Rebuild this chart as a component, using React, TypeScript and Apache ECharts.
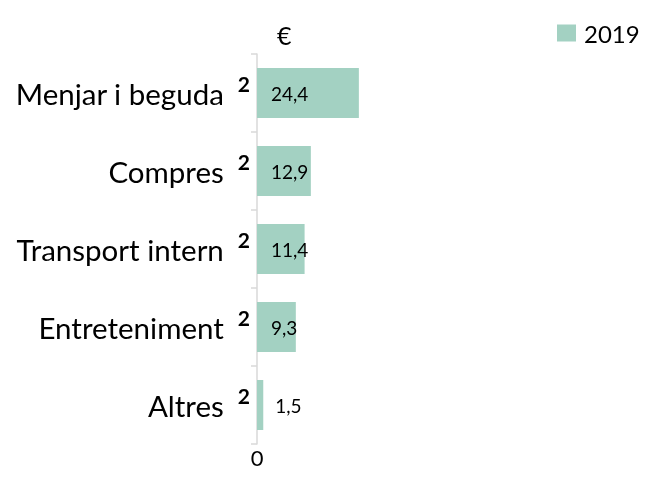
import React, { useEffect, useRef } from "react";
import * as echarts from "echarts";

const categories = ["Menjar i beguda", "Compres", "Transport intern", "Entreteniment", "Altres"];
const superscripts = ["2", "2", "2", "2", "2"];
const values2019 = [24.4, 12.9, 11.4, 9.3, 1.5];
const seriesName = "2019";
const unitLabel = "€";

const FONT = "Lato";
const BAR_COLOR = "#a3d1c2";

export default function App() {
  const ref = useRef<HTMLDivElement>(null);
  useEffect(() => {
    if (!ref.current) return;
    const chart = echarts.init(ref.current, undefined, { renderer: "svg" });
    chart.setOption({
      animation: false,
      textStyle: { fontFamily: FONT },
      legend: {
        data: [seriesName],
        left: 552,
        top: 16,
        icon: "rect",
        itemWidth: 19,
        itemHeight: 17,
        textStyle: { fontSize: 24, color: "#000", fontFamily: FONT, padding: [0, 0, 0, 3] },
      },
      graphic: [
        {
          type: "text",
          left: 277,
          top: 22,
          style: { text: unitLabel, fontSize: 25, fill: "#000", fontFamily: FONT },
        },
      ],
      grid: { left: 257, top: 54, bottom: 44, width: 334, containLabel: false },
      xAxis: {
        type: "value",
        min: 0,
        max: 80,
        interval: 80,
        axisLine: { show: false },
        axisTick: { show: false },
        splitLine: { show: false },
        axisLabel: {
          fontSize: 22,
          color: "#000",
          margin: 2,
          fontFamily: FONT,
          formatter: (v: number) => (v === 0 ? "0" : ""),
        },
      },
      yAxis: {
        type: "category",
        inverse: true,
        data: categories,
        axisLine: { show: true, lineStyle: { color: "#d9d9d9", width: 1.5 } },
        axisTick: { show: true, length: 6, lineStyle: { color: "#d9d9d9", width: 1.5 } },
        axisLabel: {
          margin: 7,
          fontFamily: FONT,
          formatter: (v: string) => {
            const i = categories.indexOf(v);
            return `{a|${v}}{b|${superscripts[i]}}`;
          },
          rich: {
            a: { fontSize: 29.5, color: "#000", fontFamily: FONT },
            b: {
              fontSize: 21,
              fontWeight: "bold",
              color: "#000",
              fontFamily: FONT,
              padding: [0, 0, 20, 14],
            },
          },
        },
      },
      series: [
        {
          name: seriesName,
          type: "bar",
          data: values2019.map((v, i) =>
            i === values2019.length - 1
              ? { value: v, label: { position: "right", distance: 12 } }
              : { value: v }
          ),
          barWidth: 50,
          itemStyle: { color: BAR_COLOR },
          label: {
            show: true,
            position: "insideLeft",
            distance: 14,
            fontSize: 19,
            color: "#000",
            fontFamily: FONT,
            formatter: (p: any) => String(p.value).replace(".", ","),
          },
        },
      ],
    });
    return () => chart.dispose();
  }, []);
  return (
    <div
      ref={ref}
      style={{ position: "fixed", left: 0, top: 0, width: 649, height: 488 }}
    />
  );
}
